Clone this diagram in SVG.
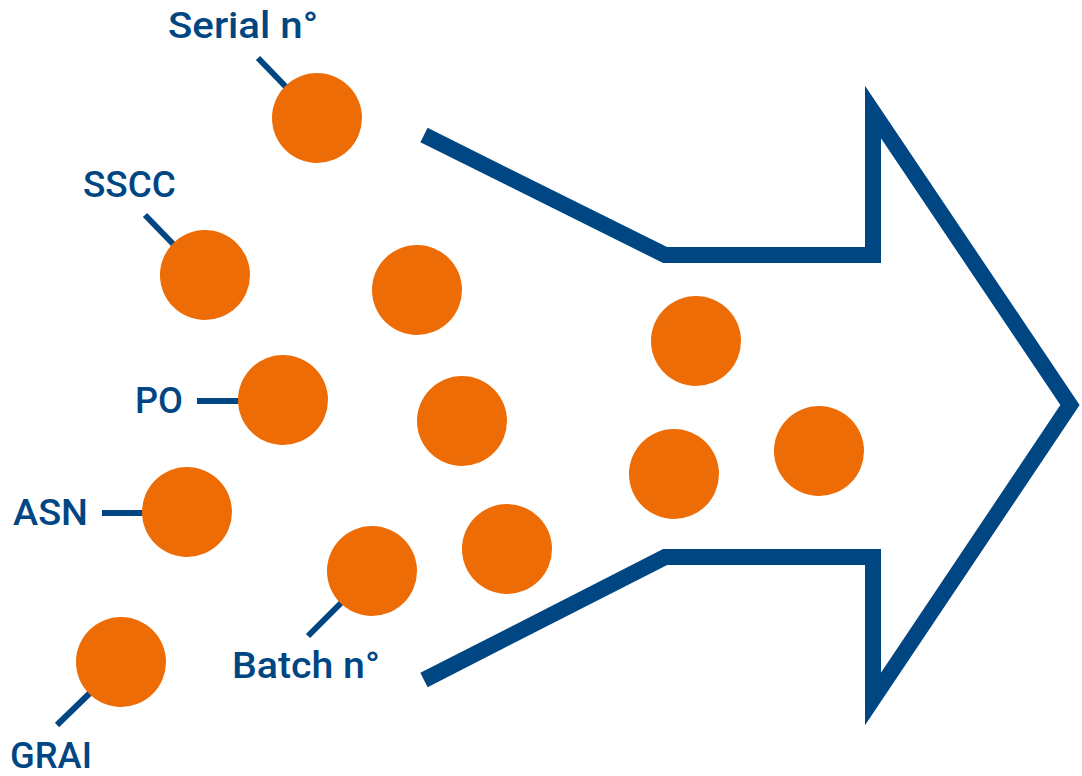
<svg xmlns="http://www.w3.org/2000/svg" width="1082" height="776" viewBox="0 0 1082 776">
<style>
.dot{fill:#ee6c05}
.lead{stroke:#004683;stroke-width:6;fill:none}
.arrow{stroke:#004683;stroke-width:16;fill:none;stroke-linejoin:miter;stroke-miterlimit:10}
.lbl{fill:#004683;font-family:Roboto,"Liberation Sans",sans-serif;font-size:37px;font-weight:500}
</style>
<rect width="1082" height="776" fill="#fff"/>
<g id="connectors">
<path class="arrow" d="M424,135 L665,255 L873,255 L873,112 L1070,405 L873,699 L873,557 L665,557 L424,680"/>
<line class="lead" x1="258" y1="58" x2="288" y2="89"/>
<line class="lead" x1="145" y1="215" x2="176" y2="247"/>
<line class="lead" x1="197" y1="401" x2="240" y2="401"/>
<line class="lead" x1="102" y1="513" x2="145" y2="513"/>
<line class="lead" x1="57" y1="725" x2="91" y2="692"/>
<line class="lead" x1="308" y1="636" x2="341" y2="603"/>
</g>
<g id="serial"><circle class="dot" cx="317" cy="118" r="45"/><text class="lbl" x="168" y="38" textLength="150" lengthAdjust="spacingAndGlyphs">Serial n°</text></g>
<g id="sscc"><circle class="dot" cx="205" cy="275" r="45"/><text class="lbl" x="83" y="197" textLength="93" lengthAdjust="spacingAndGlyphs">SSCC</text></g>
<g id="po"><circle class="dot" cx="283" cy="400" r="45"/><text class="lbl" x="135" y="413" textLength="48" lengthAdjust="spacingAndGlyphs">PO</text></g>
<g id="asn"><circle class="dot" cx="187" cy="512" r="45"/><text class="lbl" x="13" y="525" textLength="75" lengthAdjust="spacingAndGlyphs">ASN</text></g>
<g id="grai"><circle class="dot" cx="121" cy="662" r="45"/><text class="lbl" x="10" y="768" textLength="82" lengthAdjust="spacingAndGlyphs">GRAI</text></g>
<g id="batch"><circle class="dot" cx="372" cy="571" r="45"/><text class="lbl" x="232" y="678" textLength="148" lengthAdjust="spacingAndGlyphs">Batch n°</text></g>
<g id="d1"><circle class="dot" cx="417" cy="290" r="45"/></g>
<g id="d2"><circle class="dot" cx="462" cy="421" r="45"/></g>
<g id="d3"><circle class="dot" cx="507" cy="549" r="45"/></g>
<g id="d4"><circle class="dot" cx="696" cy="341" r="45"/></g>
<g id="d5"><circle class="dot" cx="674" cy="474" r="45"/></g>
<g id="d6"><circle class="dot" cx="819" cy="451" r="45"/></g>
</svg>
